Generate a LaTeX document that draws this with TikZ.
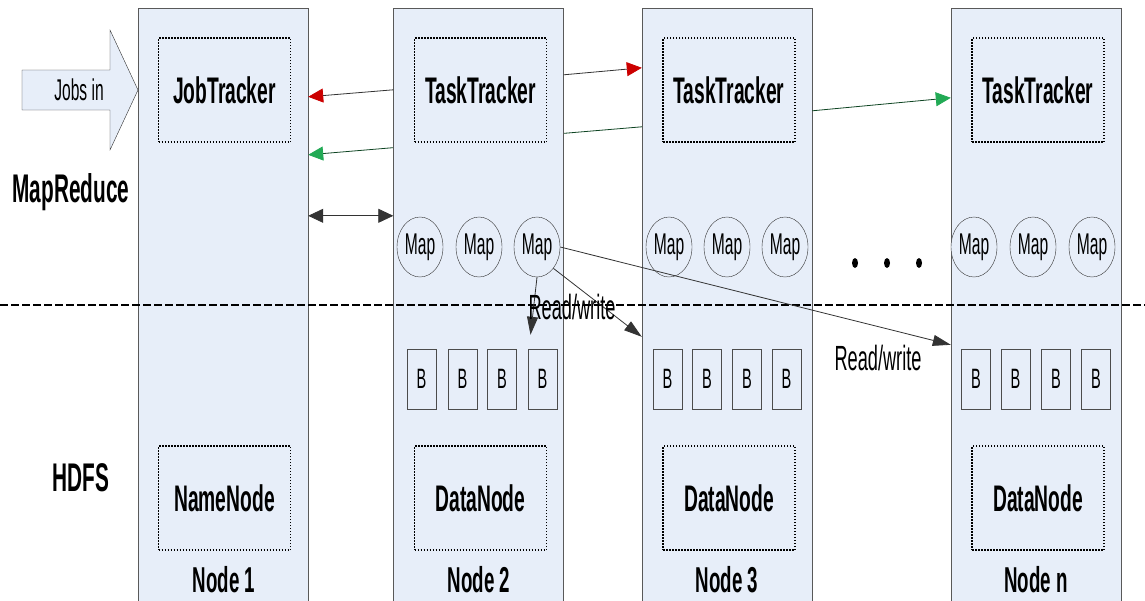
\documentclass[tikz,border=0pt]{standalone}
\usepackage{fontspec}
\setmainfont{Liberation Sans}[FakeStretch=0.52]
\usetikzlibrary{positioning,calc,shapes.geometric,arrows.meta,backgrounds}
\definecolor{boxfill}{RGB}{231,238,249}
\definecolor{hred}{RGB}{204,0,0}
\definecolor{hgreen}{RGB}{34,170,85}

\begin{document}
\begin{tikzpicture}[x=1pt,y=-1pt,
  machine/.style = {draw=black!65, fill=boxfill, minimum width=170pt, minimum height=594pt, inner sep=0pt},
  daemon/.style = {draw, line width=1.5pt, dash pattern=on 1.5pt off 1.5pt, minimum width=132pt, minimum height=104pt, inner sep=0pt, font=\fontsize{37}{37}\selectfont\bfseries},
  maptask/.style = {ellipse, draw=black!80, fill=boxfill, minimum width=46pt, minimum height=60pt, inner sep=0pt, font=\fontsize{30}{30}\selectfont},
  block/.style = {draw=black!70, fill=boxfill, minimum width=29pt, minimum height=60pt, inner sep=0pt, font=\fontsize{28}{28}\selectfont},
  dot/.style = {ellipse, fill=black, minimum width=6pt, minimum height=10pt, inner sep=0pt},
  caption/.style = {font=\fontsize{36}{36}\selectfont\bfseries},
  layer/.style = {font=\fontsize{40}{40}\selectfont\bfseries},
  rw/.style = {font=\fontsize{35}{35}\selectfont},
  link/.style = {draw=black!80, line width=0.8pt},
  ]
\useasboundingbox (0,0) rectangle (1145,600);

\node[machine] (n1) at (223,305) {};
\node[machine] (n2) at (478.5,305) {};
\node[machine] (n3) at (727,305) {};
\node[machine] (n4) at (1036,305) {};

\draw[draw=black!80, fill=boxfill] (22,70) -- (110,70) -- (110,30) -- (138,90) -- (110,150) -- (110,110) -- (22,110) -- cycle;
\node[font=\fontsize{30}{30}\selectfont] (jobs) at (79,90) {Jobs in};

\node[layer] (mr) at (71,192) {MapReduce};
\node[layer] (hdfs) at (81,478) {HDFS};

\node[daemon] (jt) at (224.5,90) {JobTracker};
\node[daemon] (tt2) at (480.5,90) {TaskTracker};
\node[daemon] (tt3) at (729,90) {TaskTracker};
\node[daemon] (tt4) at (1038,90) {TaskTracker};

\node[daemon] (nn) at (224.5,498) {NameNode};
\node[daemon] (dn2) at (480.5,498) {DataNode};
\node[daemon] (dn3) at (729,498) {DataNode};
\node[daemon] (dn4) at (1038,498) {DataNode};

\node[caption] (c1) at (224,580) {Node 1};
\node[caption] (c2) at (479,580) {Node 2};
\node[caption] (c3) at (727,580) {Node 3};
\node[caption] (c4) at (1036,580) {Node n};

\node[maptask] (m21) at (420,247) {Map};
\node[maptask] (m22) at (479,247) {Map};
\node[maptask] (m23) at (537,247) {Map};
\node[maptask] (m31) at (669,247) {Map};
\node[maptask] (m32) at (727,247) {Map};
\node[maptask] (m33) at (785,247) {Map};
\node[maptask] (m41) at (974,247) {Map};
\node[maptask] (m42) at (1033,247) {Map};
\node[maptask] (m43) at (1092,247) {Map};

\node[dot] (d1) at (855,263) {};
\node[dot] (d2) at (887,263) {};
\node[dot] (d3) at (919,263) {};

\node[block] (b21) at (421.5,379) {B};
\node[block] (b22) at (462.5,379) {B};
\node[block] (b23) at (502,379) {B};
\node[block] (b24) at (542.5,379) {B};
\node[block] (b31) at (667.5,379) {B};
\node[block] (b32) at (707,379) {B};
\node[block] (b33) at (747,379) {B};
\node[block] (b34) at (786.5,379) {B};
\node[block] (b41) at (976,379) {B};
\node[block] (b42) at (1015.5,379) {B};
\node[block] (b43) at (1056,379) {B};
\node[block] (b44) at (1096,379) {B};

\coordinate (hl) at (0,305);
\coordinate (hr) at (1145,305);
\draw[line width=2.5pt, dash pattern=on 8pt off 3pt] (hl) -- (hr);

\begin{pgfonlayer}{background}
\draw[link, draw=black!60!hgreen, -{Triangle[length=15pt,width=14pt,color=hgreen]}] ($(n3.north west)+(0,119)$) -- ($(n1.north east)+(0,147)$);
\end{pgfonlayer}
\draw[link, -{Triangle[length=15pt,width=14pt,color=hred]}] ($(n2.north west)+(0,82)$) -- ($(n1.north east)+(0,89)$);
\draw[link, -{Triangle[length=15pt,width=14pt,color=hred]}] ($(n2.north east)+(0,67)$) -- ($(n3.north west)+(0,60)$);
\draw[link, draw=black!60!hgreen, -{Triangle[length=15pt,width=14pt,color=hgreen]}] ($(n3.north east)+(0,103)$) -- ($(n4.north west)+(0,90)$);
\draw[link, {Triangle[length=15pt,width=14pt]}-{Triangle[length=15pt,width=14pt]}] ($(n1.north east)+(0,208)$) -- ($(n2.north west)+(0,208)$);

\draw[link, -{Triangle[length=18pt,width=11pt]}] (m23.east) -- ($(n4.north west)+(0,337)$);
\draw[link, -{Triangle[length=18pt,width=11pt]}] (m23.south east) -- ($(n3.north west)+(0,329)$);
\draw[link, -{Triangle[length=18pt,width=11pt]}] (m23.south) -- ($(b24.north)+(-12,-14)$);

\node[rw] (rw1) at (572,307) {Read/write};
\node[rw] (rw2) at (878,358) {Read/write};
\end{tikzpicture}
\end{document}
